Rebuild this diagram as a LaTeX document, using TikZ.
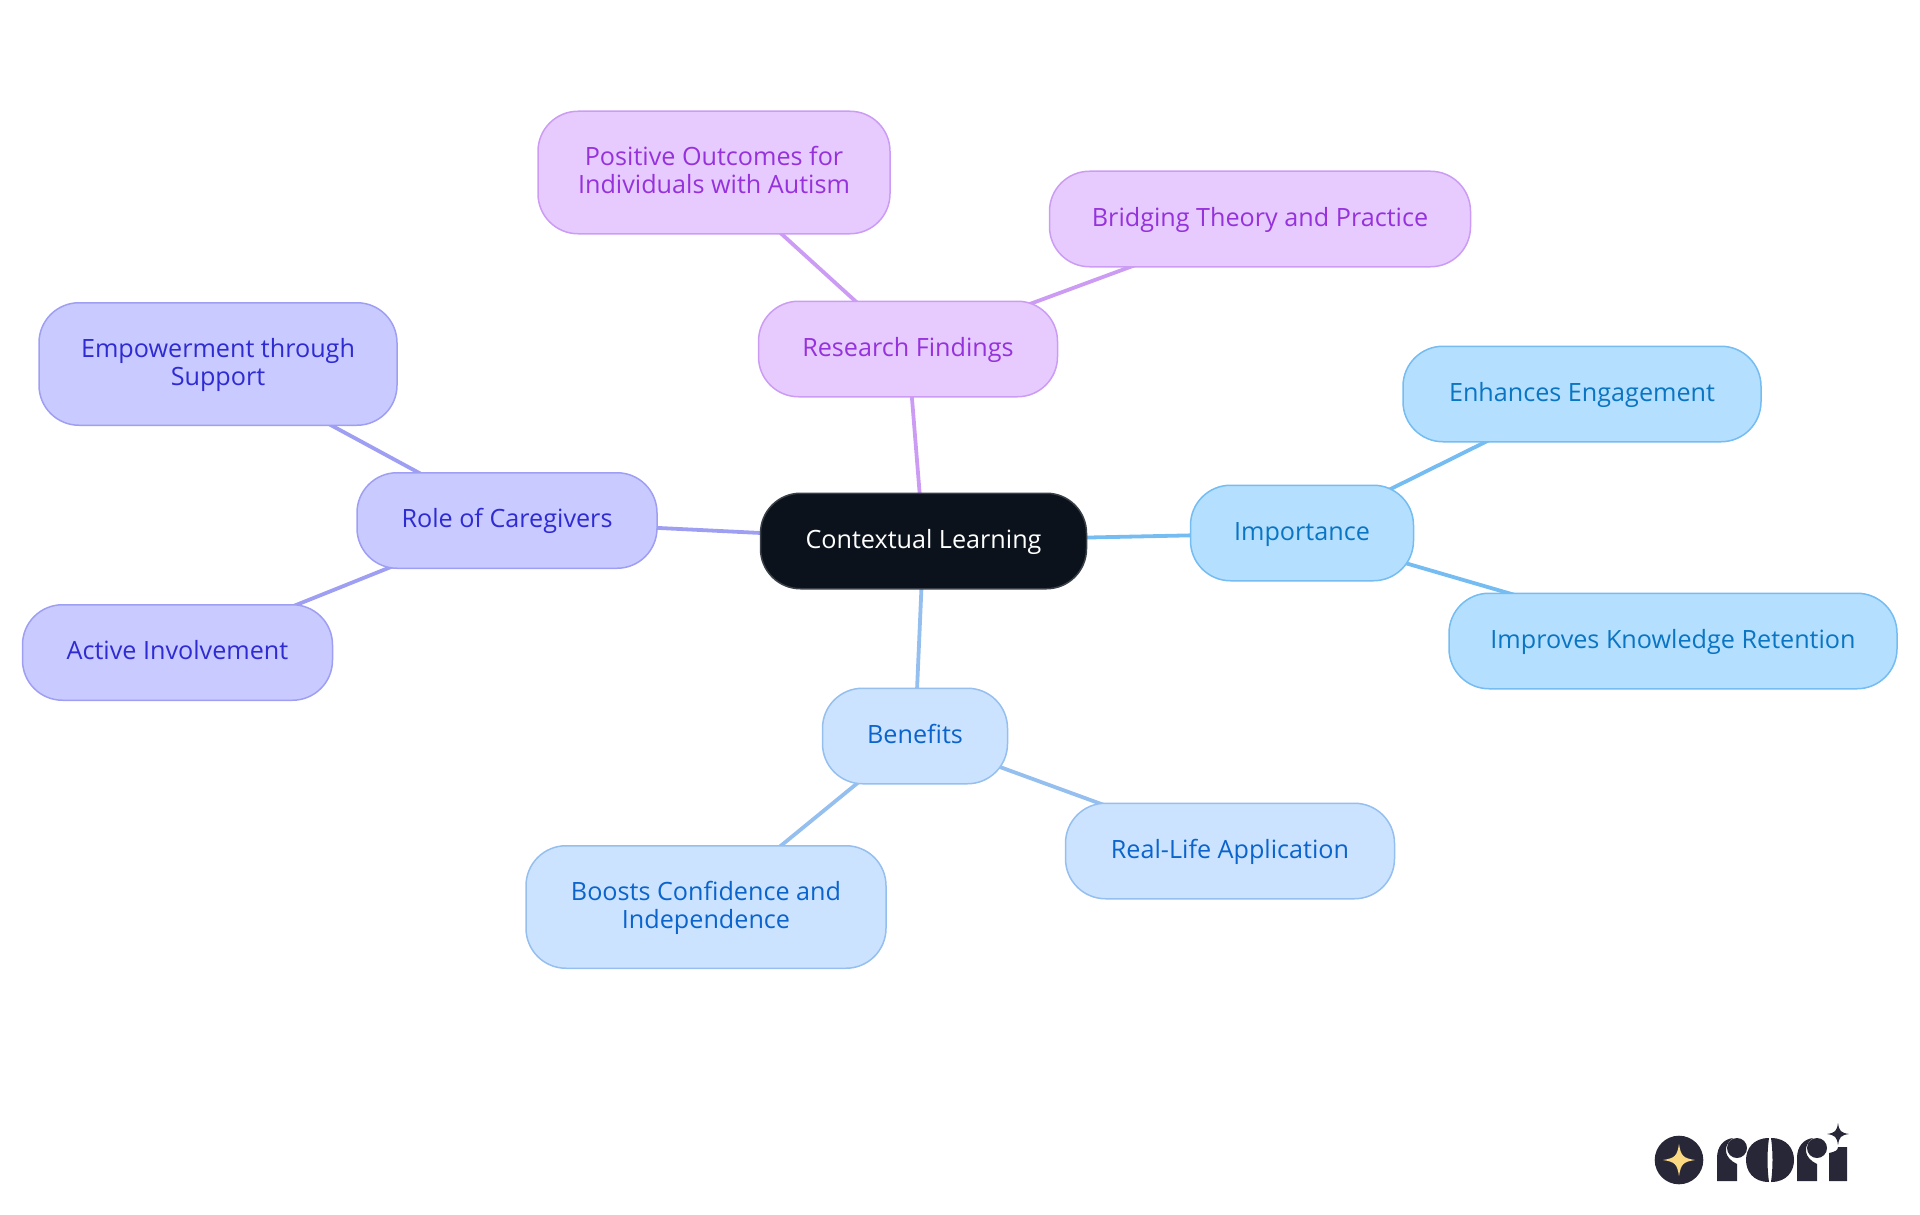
\documentclass[tikz,border=0pt]{standalone}
\usepackage{fontspec}
\setmainfont{Open Sans}
\usetikzlibrary{backgrounds}

\definecolor{rootfill}{HTML}{0B121B}
\definecolor{rootline}{HTML}{3A4047}
\definecolor{purplefill}{HTML}{E7CBFF}
\definecolor{purpleline}{HTML}{CC9CF4}
\definecolor{purpletext}{HTML}{9632DC}
\definecolor{indigofill}{HTML}{C9CAFF}
\definecolor{indigoline}{HTML}{9E9FF3}
\definecolor{indigotext}{HTML}{2F2BD2}
\definecolor{skyfill}{HTML}{B5DFFF}
\definecolor{skyline}{HTML}{74BCF1}
\definecolor{skytext}{HTML}{0A75C2}
\definecolor{bluefill}{HTML}{CCE3FF}
\definecolor{blueline}{HTML}{94BFEF}
\definecolor{bluetext}{HTML}{0A64CC}
\definecolor{logodark}{HTML}{282737}
\definecolor{logostar}{HTML}{FBD983}

\tikzset{
  topic/.style={draw, line width=1.5*0.025cm, rounded corners=1cm, minimum height=95.5*0.025cm,
    inner sep=0pt, align=center, font=\fontsize{17.9}{19.9}\selectfont,
    text height=14.5pt, text depth=4.5pt},
  twolines/.style={minimum height=122.5*0.025cm, text height=32.3pt, text depth=1.9pt},
  rootnode/.style={topic, fill=rootfill, draw=rootline, text=white},
  purplenode/.style={topic, fill=purplefill, draw=purpleline, text=purpletext},
  indigonode/.style={topic, fill=indigofill, draw=indigoline, text=indigotext},
  skynode/.style={topic, fill=skyfill, draw=skyline, text=skytext},
  bluenode/.style={topic, fill=bluefill, draw=blueline, text=bluetext},
  sparkle/.pic={\fill (-1,0) .. controls (-.25,-.12) and (-.12,-.25) .. (0,-1)
    .. controls (.12,-.25) and (.25,-.12) .. (1,0)
    .. controls (.25,.12) and (.12,.25) .. (0,1)
    .. controls (-.12,.25) and (-.25,.12) .. (-1,0) -- cycle;}
}

\begin{document}
\begin{tikzpicture}[x=0.025cm,y=-0.025cm]
\useasboundingbox (0,0) rectangle (1920,1215);

\node[rootnode, minimum width=326*0.025cm] (root) at (923.5,541) {Contextual Learning};
\node[purplenode, minimum width=299*0.025cm] (research) at (908,349) {Research Findings};
\node[purplenode, twolines, minimum width=352*0.025cm] (outcomes) at (714,172.5) {Positive Outcomes for\\Individuals with Autism};
\node[purplenode, minimum width=421*0.025cm] (bridging) at (1260,219) {Bridging Theory and Practice};
\node[skynode, minimum width=223*0.025cm] (importance) at (1302,533) {Importance};
\node[skynode, minimum width=358*0.025cm] (engagement) at (1582,394) {Enhances Engagement};
\node[skynode, minimum width=448*0.025cm] (retention) at (1673,641) {Improves Knowledge Retention};
\node[bluenode, minimum width=185*0.025cm] (benefits) at (915,736) {Benefits};
\node[bluenode, minimum width=329*0.025cm] (reallife) at (1230,851) {Real-Life Application};
\node[bluenode, twolines, minimum width=360*0.025cm] (confidence) at (706,907) {Boosts Confidence and\\Independence};
\node[indigonode, minimum width=300*0.025cm] (caregivers) at (507,520.5) {Role of Caregivers};
\node[indigonode, twolines, minimum width=358*0.025cm] (support) at (218,364) {Empowerment through\\Support};
\node[indigonode, minimum width=310*0.025cm] (active) at (177.5,652.5) {Active Involvement};

\begin{pgfonlayer}{background}
\foreach \from/\to/\col in {root/research/purpleline,research/outcomes/purpleline,research/bridging/purpleline,
  root/importance/skyline,importance/engagement/skyline,importance/retention/skyline,
  root/benefits/blueline,benefits/reallife/blueline,benefits/confidence/blueline,
  root/caregivers/indigoline,caregivers/support/indigoline,caregivers/active/indigoline}
\draw[\col, line width=3.8*0.025cm] (\from.center) -- (\to.center);
\end{pgfonlayer}

% logo
\fill[logodark] (1679,1160) circle (24.3);
\pic[logostar, scale=16] at (1679,1160) {sparkle};
\fill[logodark] (1717,1181) -- (1717,1158) .. controls (1717,1146) and (1724,1139) .. (1733,1138)
  .. controls (1722,1146) and (1724,1158) .. (1737,1164) -- (1737,1181) -- cycle;
\fill[logodark] (1737,1148) circle (10);
\fill[logodark] (1769,1138) .. controls (1753,1138) and (1746,1149) .. (1746,1160)
  .. controls (1746,1171) and (1753,1182) .. (1769,1182) .. controls (1767,1168) and (1767,1152) .. (1769,1138) -- cycle;
\fill[logodark] (1771,1138) .. controls (1787,1138) and (1794,1149) .. (1794,1160)
  .. controls (1794,1171) and (1787,1182) .. (1771,1182) .. controls (1773,1168) and (1773,1152) .. (1771,1138) -- cycle;
\fill[logodark] (1797,1181) -- (1797,1158) .. controls (1797,1146) and (1804,1139) .. (1813,1138)
  .. controls (1802,1146) and (1804,1158) .. (1817,1164) -- (1817,1181) -- cycle;
\fill[logodark] (1817,1148) circle (10);
\fill[logodark] (1829,1181) -- (1829,1153) .. controls (1835,1152) and (1838,1150) .. (1838,1147) -- (1847,1147) -- (1847,1181) -- cycle;
\pic[logodark, scale=11] at (1838,1134) {sparkle};
\end{tikzpicture}
\end{document}
